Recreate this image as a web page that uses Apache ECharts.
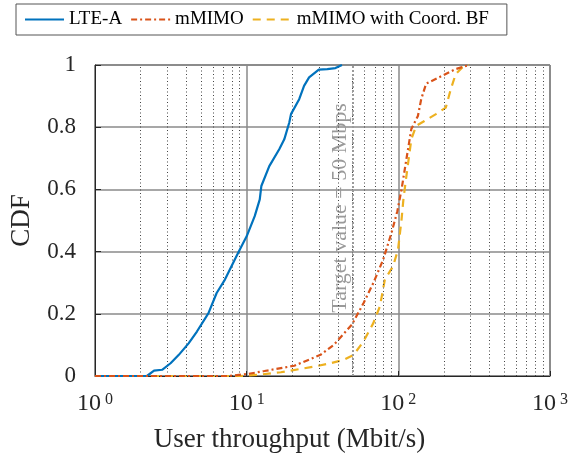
<!DOCTYPE html>
<html>
<head>
<meta charset="utf-8">
<script src="https://cdn.jsdelivr.net/npm/echarts@6/dist/echarts.min.js"></script>
<style>
  html, body { margin: 0; padding: 0; background: #fff; }
  #chart { width: 571px; height: 461px; }
</style>
</head>
<body>
<div id="chart"></div>
<script>
// Empirical CDFs of user throughput (Mbit/s)
const lteX = [1, 2.2, 2.45, 2.77, 3.15, 3.57, 4.14, 4.7, 5.6, 6.34, 7.19, 8.79, 10, 11.3, 12.2, 12.5, 14.1, 16.4, 17.7, 19.1, 19.6, 22.2, 23.9, 25.8, 29.9, 34.0, 38.5, 42.5];
const lteY = [0, 0, 0.017, 0.02, 0.041, 0.068, 0.105, 0.143, 0.202, 0.267, 0.31, 0.396, 0.449, 0.514, 0.568, 0.611, 0.675, 0.729, 0.761, 0.815, 0.842, 0.89, 0.933, 0.96, 0.985, 0.987, 0.99, 1.0];

const mimoX = [1, 7.5, 10, 13.1, 20.6, 30.7, 37.5, 49.4, 58.9, 68.4, 79.4, 90.1, 98.5, 105, 113, 121.8, 134.6, 141.5, 152.5, 196, 239, 292];
const mimoY = [0, 0, 0.006, 0.016, 0.033, 0.068, 0.1, 0.165, 0.234, 0.299, 0.374, 0.46, 0.53, 0.6, 0.697, 0.794, 0.836, 0.89, 0.94, 0.966, 0.987, 1.0];

const coordX = [1, 9, 12, 16.8, 27.8, 35.7, 43.6, 50.7, 58.9, 68.4, 75.6, 81.5, 92.3, 99.5, 105, 108, 113, 121.8, 131, 148.6, 177, 205.6, 222, 239, 264, 292];
const coordY = [0, 0, 0.004, 0.012, 0.03, 0.041, 0.052, 0.068, 0.111, 0.17, 0.224, 0.31, 0.353, 0.406, 0.503, 0.568, 0.643, 0.761, 0.804, 0.82, 0.842, 0.863, 0.923, 0.971, 0.992, 1.0];

const seriesNames = ['LTE-A', 'mMIMO', 'mMIMO with Coord. BF'];

// Minor (2..9 per decade) vertical grid positions
const minorTicks = [2, 3, 4, 5, 6, 7, 8, 9, 20, 30, 40, 50, 60, 70, 80, 90, 200, 300, 400, 500, 600, 700, 800, 900];
const targetRate = 50;
const targetText = 'Target value = 50 Mbps';

const pairs = (xs, ys) => xs.map((x, i) => [x, ys[i]]);

const FONT = '"Liberation Serif", "DejaVu Serif", serif';
const TXT = '#262626';

const chart = echarts.init(document.getElementById('chart'), null, { renderer: 'canvas' });

const option = {
  animation: false,
  backgroundColor: '#fff',
  textStyle: { fontFamily: FONT },
  grid: {
    left: 92, right: 19, top: 65, bottom: 85,
    show: true, borderColor: '#262626', borderWidth: 1, backgroundColor: 'transparent'
  },
  legend: {
    data: seriesNames,
    left: 16, top: 4,
    padding: [6, 18, 6, 8],
    itemWidth: 39, itemHeight: 14, itemGap: 8,
    borderColor: '#555', borderWidth: 1,
    itemStyle: { opacity: 0 },
    textStyle: { fontFamily: FONT, fontSize: 19, color: '#000' }
  },
  xAxis: {
    type: 'log', logBase: 10, min: 1, max: 1000,
    name: 'User throughput (Mbit/s)',
    nameLocation: 'middle', nameGap: 50,
    nameTextStyle: { fontFamily: FONT, fontSize: 27, color: TXT, padding: [0, 66, 0, 0] },
    axisLine: { show: true, lineStyle: { color: '#262626', width: 1 } },
    axisTick: { show: true, inside: true, length: 5, lineStyle: { color: '#262626' } },
    splitLine: { show: true, lineStyle: { color: '#8a8a8a', width: 1.5 } },
    axisLabel: {
      margin: 16,
      formatter: v => '{b|10}{s| ' + Math.round(Math.log10(v)) + '}',
      rich: {
        b: { fontFamily: FONT, fontSize: 24, color: TXT, lineHeight: 24, padding: [12, 0, 0, 0], verticalAlign: 'bottom' },
        s: { fontFamily: FONT, fontSize: 16, color: TXT, lineHeight: 16, verticalAlign: 'top' }
      }
    }
  },
  yAxis: {
    type: 'value', min: 0, max: 1, interval: 0.2,
    name: 'CDF', nameLocation: 'middle', nameGap: 60,
    nameTextStyle: { fontFamily: FONT, fontSize: 27, color: TXT },
    axisLine: { show: true, lineStyle: { color: '#262626', width: 1 } },
    axisTick: { show: true, inside: true, length: 6, lineStyle: { color: '#262626' } },
    splitLine: { show: true, lineStyle: { color: '#8a8a8a', width: 1.5 } },
    axisLabel: {
      margin: 19, fontFamily: FONT, fontSize: 23, color: TXT,
      formatter: v => (v === 0 ? '0' : v === 1 ? '1' : String(+v.toFixed(1)))
    }
  },
  series: [
    {
      name: '__minor', type: 'line', data: [], z: 1, silent: true,
      markLine: {
        silent: true, symbol: 'none', animation: false,
        label: { show: false },
        lineStyle: { color: '#444', width: 1, type: [1, 2.5] },
        data: minorTicks.map(v => ({ xAxis: v }))
      }
    },
    {
      name: '__target', type: 'line', data: [], z: 2, silent: true,
      markLine: {
        silent: true, symbol: 'none', animation: false,
        label: { show: false },
        lineStyle: { color: '#9a9a9a', width: 2, type: [2, 2] },
        data: [{ xAxis: targetRate }]
      }
    },
    {
      name: seriesNames[0], type: 'line', data: pairs(lteX, lteY), z: 5,
      symbol: 'none', showSymbol: false,
      color: '#0072BD',
      lineStyle: { color: '#0072BD', width: 2.2, type: 'solid' }
    },
    {
      name: seriesNames[1], type: 'line', data: pairs(mimoX, mimoY), z: 6,
      symbol: 'none', showSymbol: false,
      color: '#D95319',
      lineStyle: { color: '#D95319', width: 2.2, type: [6, 3, 2, 3] }
    },
    {
      name: seriesNames[2], type: 'line', data: pairs(coordX, coordY), z: 4,
      symbol: 'none', showSymbol: false,
      color: '#EDB120',
      lineStyle: { color: '#EDB120', width: 2.2, type: [8, 6] }
    }
  ]
};

chart.setOption(option);

// Rotated annotation beside the target-rate line
const anchor = chart.convertToPixel({ gridIndex: 0 }, [targetRate, 0.55]);
chart.setOption({
  graphic: [{
    type: 'text',
    x: anchor[0] - 12.5, y: anchor[1] + 3,
    rotation: Math.PI / 2,
    silent: true,
    style: {
      text: targetText,
      fontFamily: FONT, fontSize: 22, fill: '#9a9a9a',
      align: 'center', verticalAlign: 'middle'
    }
  }]
});
</script>
</body>
</html>
